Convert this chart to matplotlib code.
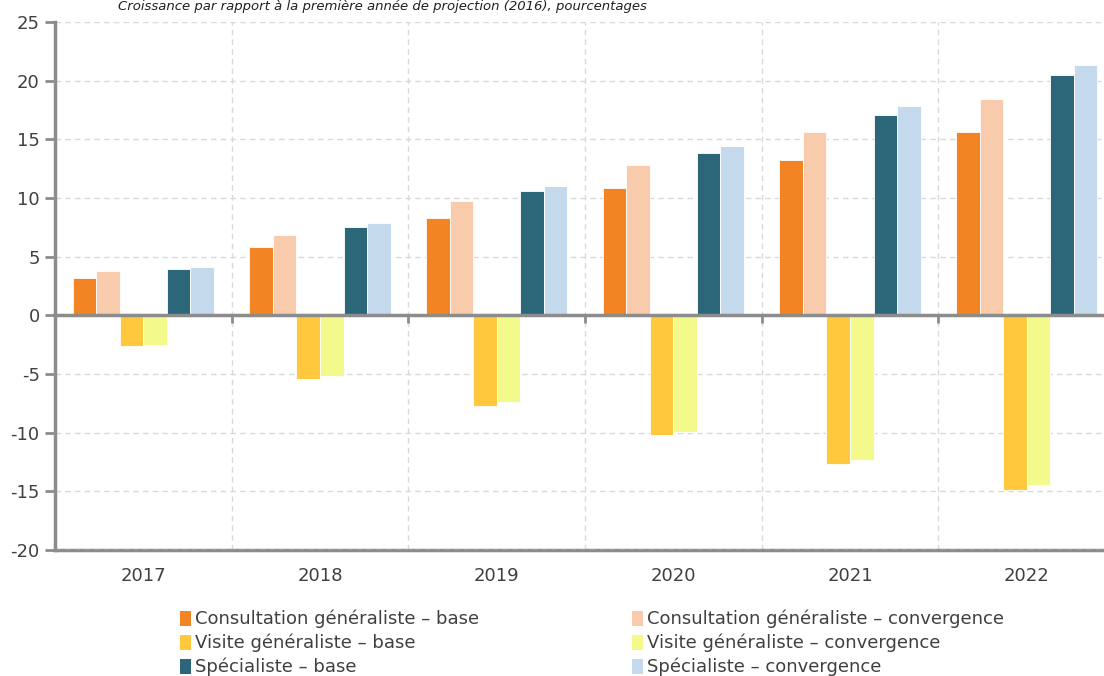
import numpy as np
import matplotlib.pyplot as plt
from matplotlib.patches import Patch

# data: growth relative to 2016, in percent
years = ['2017', '2018', '2019', '2020', '2021', '2022']

consult_base = [3.2, 5.8, 8.3, 10.85, 13.2, 15.65]
consult_conv = [3.8, 6.85, 9.75, 12.8, 15.6, 18.4]
visite_base = [-2.65, -5.4, -7.7, -10.2, -12.7, -14.9]
visite_conv = [-2.5, -5.15, -7.4, -9.95, -12.3, -14.5]
special_base = [3.95, 7.55, 10.6, 13.85, 17.1, 20.45]
special_conv = [4.15, 7.85, 11.0, 14.45, 17.85, 21.3]

labels = ['Consultation généraliste – base', 'Consultation généraliste – convergence',
          'Visite généraliste – base', 'Visite généraliste – convergence',
          'Spécialiste – base', 'Spécialiste – convergence']
colors = ['#F38424', '#F8CBAD', '#FFC83D', '#F3F98B', '#2C6679', '#C4D9EC']
series = [consult_base, consult_conv, visite_base, visite_conv, special_base, special_conv]

plt.rcParams['font.family'] = 'DejaVu Sans'
plt.rcParams['axes.unicode_minus'] = False
grey = '#8C8C8C'
txt = '#404040'

fig = plt.figure(figsize=(11.04, 6.76), dpi=100)
ax = fig.add_axes([55/1104, 126/676, 1060/1104, 528/676])

x = np.arange(len(years))
w = 0.8 / 6
for i, (vals, c) in enumerate(zip(series, colors)):
    ax.bar(x + (i - 2.5) * w, vals, w, color=c, edgecolor='white', linewidth=0.6, zorder=3)

ax.set_xlim(-0.5, 5.5)
ax.set_ylim(-20, 25)
ax.set_yticks(np.arange(-20, 26, 5))
ax.tick_params(axis='y', direction='out', length=7, width=2, color=grey,
               labelsize=13, labelcolor=txt, pad=4)

# grid
ax.grid(axis='y', color='#D9D9D9', linestyle=(0, (4, 3)), linewidth=1, zorder=0)
for b in np.arange(0.5, 5.5, 1):
    ax.axvline(b, color='#D9D9D9', linestyle=(0, (4, 3)), linewidth=1, zorder=0)

# spines: left and zero line with boundary ticks
for s in ['top', 'right']:
    ax.spines[s].set_visible(False)
ax.spines['left'].set_color(grey)
ax.spines['left'].set_linewidth(2.5)
ax.spines['bottom'].set_position(('data', 0))
ax.spines['bottom'].set_color(grey)
ax.spines['bottom'].set_linewidth(2.5)
ax.spines['bottom'].set_zorder(4)
ax.set_xticks(np.arange(0.5, 5.5, 1))
ax.set_xticklabels([])
ax.tick_params(axis='x', direction='out', length=6, width=2, color=grey)

# category labels along the bottom
sec = ax.secondary_xaxis('bottom')
sec.set_xticks(x)
sec.set_xticklabels(years)
sec.tick_params(length=0, labelsize=13, labelcolor=txt, pad=12)
sec.spines['bottom'].set_color(grey)
sec.spines['bottom'].set_linewidth(2.5)

fig.text(118/1104, 1.0, 'Croissance par rapport à la première année de projection (2016), pourcentages',
         fontsize=9.5, style='italic', color='#202020', va='top', ha='left')

order = [0, 2, 4, 1, 3, 5]
handles = [Patch(facecolor=colors[i], label=labels[i]) for i in order]
fig.legend(handles=handles, ncol=2, loc='upper left', bbox_to_anchor=(180/1104, 1 - 610/676),
           frameon=False, fontsize=13, labelcolor=txt, handlelength=0.6, handleheight=0.9,
           handletextpad=0.25, labelspacing=0.3, columnspacing=8.45, borderaxespad=0, borderpad=0)

fig.savefig('out.png', dpi=100)
